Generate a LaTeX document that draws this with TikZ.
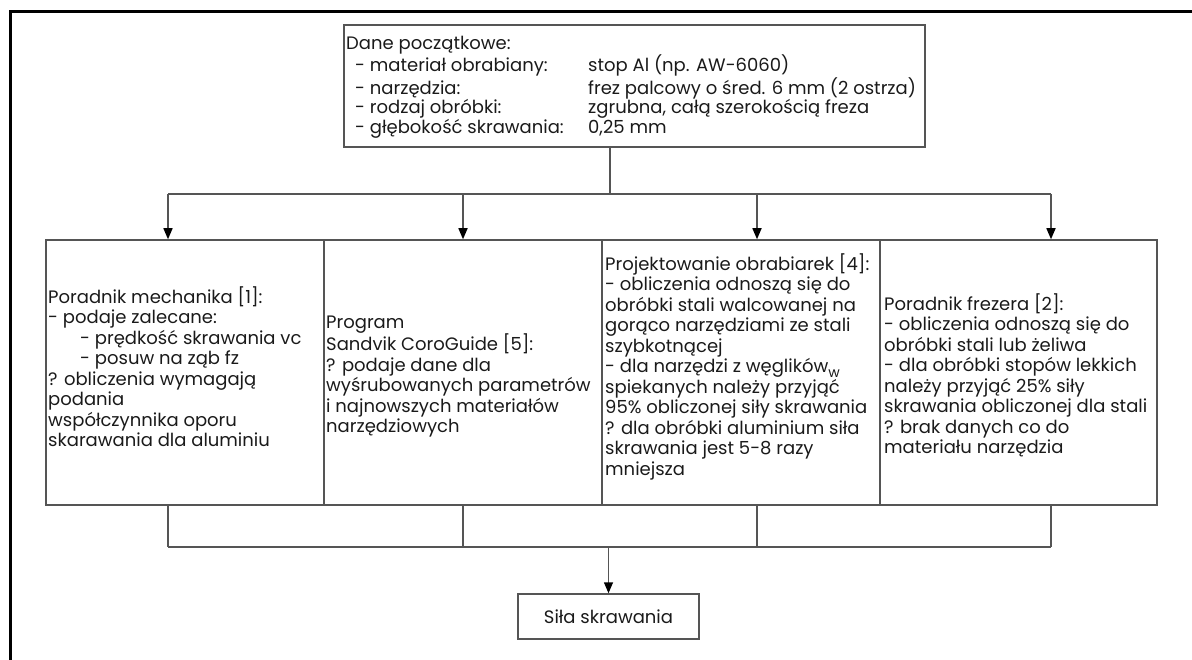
\documentclass[tikz,border=0pt]{standalone}
\usepackage{fontspec}
\setmainfont{Poppins}
\usetikzlibrary{arrows.meta,calc}
\definecolor{linegray}{HTML}{555555}
\definecolor{txtcol}{HTML}{1A1A1A}
\newcommand{\firstln}{\rule{0pt}{15pt}}
\newcommand{\lbl}[1]{\hspace*{9pt}\makebox[233pt][l]{#1}}
\begin{document}
\begin{tikzpicture}[x=1pt,y=-1pt,
  font=\fontsize{18}{20.5}\selectfont,
  box/.style={draw=linegray,line width=1.5pt,rectangle,inner sep=0pt},
  txtnode/.style={anchor=north west,inner sep=0pt,align=left,text=txtcol},
  conn/.style={draw=linegray,line width=1.5pt},
  arr/.style={conn,-{Triangle[length=11pt,width=9pt,color=black]}}]
\useasboundingbox (0,0) rectangle (1192,660);
% outer frame
\draw[black,line width=3pt,line join=miter] (1192,12) -- (10,12) -- (10,660);
% top box
\node[box,minimum width=581pt,minimum height=122pt] (top) at (634.5,86) {};
\node[txtnode,font=\fontsize{18}{19.5}\selectfont] (toptxt) at (346,34) {\firstln Dane początkowe:\\
\lbl{- materiał obrabiany:}stop Al (np. AW-6060)\\
\lbl{- narzędzia:}frez palcowy o śred. 6 mm (2 ostrza)\\
\lbl{- rodzaj obróbki:}zgrubna, całą szerokością freza\\
\lbl{- głębokość skrawania:}0,25 mm};
% four boxes
\node[box,minimum width=278pt,minimum height=265pt] (b1) at (185,372.5) {};
\node[box,minimum width=278pt,minimum height=265pt] (b2) at (463,372.5) {};
\node[box,minimum width=278pt,minimum height=265pt] (b3) at (741,372.5) {};
\node[box,minimum width=277pt,minimum height=265pt] (b4) at (1018.5,372.5) {};
\node[txtnode] (t1) at (48,286) {\firstln Poradnik mechanika [1]:\\
- podaje zalecane:\\
\hspace*{32pt}- prędkość skrawania vc\\
\hspace*{32pt}- posuw na ząb fz\\
? obliczenia wymagają\\
podania\\
współczynnika oporu\\
skarawania dla aluminiu};
\node[txtnode] (t2) at (326,313) {\firstln Program\\
Sandvik CoroGuide [5]:\\
? podaje dane dla\\
wyśrubowanych parametrów\\
i najnowszych materiałów\\
narzędziowych};
\node[txtnode] (t3) at (605,253) {\firstln Projektowanie obrabiarek [4]:\\
- obliczenia odnoszą się do\\
obróbki stali walcowanej na\\
gorąco narzędziami ze stali\\
szybkotnącej\\
- dla narzędzi z węglików\raisebox{-5pt}{\fontsize{14}{14}\selectfont w}\\
spiekanych należy przyjąć\\
95\% obliczonej siły skrawania\\
? dla obróbki aluminium siła\\
skrawania jest 5-8 razy\\
mniejsza};
\node[txtnode] (t4) at (884,293) {\firstln Poradnik frezera [2]:\\
- obliczenia odnoszą się do\\
obróbki stali lub żeliwa\\
- dla obróbki stopów lekkich\\
należy przyjąć 25\% siły\\
skrawania obliczonej dla stali\\
? brak danych co do\\
materiału narzędzia};
% result box
\node[box,minimum width=181pt,minimum height=45pt,text=txtcol] (res) at (608.5,616.5) {Siła skrawania};
% upper connectors
\coordinate (j0) at (610,194);
\coordinate (a1) at (168,194);
\coordinate (a2) at (463,194);
\coordinate (a3) at (757,194);
\coordinate (a4) at (1051,194);
\draw[conn] (top.south -| j0) -- (j0);
\draw[conn] (a1) -- (a4);
\draw[arr] (a1) -- (b1.north -| a1);
\draw[arr] (a2) -- (b2.north -| a2);
\draw[arr] (a3) -- (b3.north -| a3);
\draw[arr] (a4) -- (b4.north -| a4);
% lower connectors
\coordinate (c1) at (168,547);
\coordinate (c2) at (463,547);
\coordinate (c3) at (757,547);
\coordinate (c4) at (1051,547);
\coordinate (c0) at (608.5,547);
\draw[conn] (b1.south -| c1) -- (c1);
\draw[conn] (b2.south -| c2) -- (c2);
\draw[conn] (b3.south -| c3) -- (c3);
\draw[conn] (b4.south -| c4) -- (c4);
\draw[conn] (c1) -- (c4);
\draw[arr] (c0) -- (res.north);
\end{tikzpicture}
\end{document}
